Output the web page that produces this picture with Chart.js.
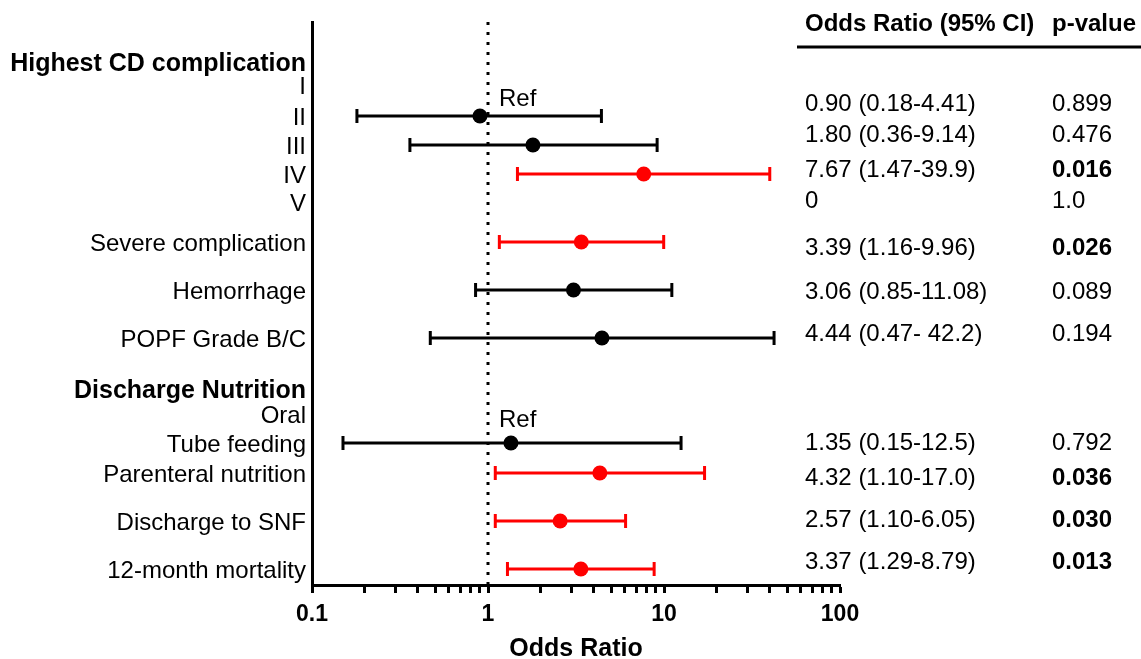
<!DOCTYPE html>
<html>
<head>
<meta charset="utf-8">
<script src="https://cdn.jsdelivr.net/npm/chart.js@4.4.1/dist/chart.umd.min.js"></script>
<style>
  html, body { margin: 0; padding: 0; background: #fff; }
  #wrap { width: 1141px; height: 659px; }
</style>
</head>
<body>
<div id="wrap"><canvas id="forest"></canvas></div>
<script>
const FONT = "'Liberation Sans', Arial, sans-serif";
const RED = '#ff0000';

// rows on the y axis (headers in bold)
const rowLabels = ['Highest CD complication', 'I', 'II', 'III', 'IV', 'V',
  'Severe complication', 'Hemorrhage', 'POPF Grade B/C',
  'Discharge Nutrition', 'Oral', 'Tube feeding', 'Parenteral nutrition',
  'Discharge to SNF', '12-month mortality'];
const rowY = [40, 63, 94, 123, 152, 180, 220, 268, 316, 367, 392, 421, 451, 499, 547];
const headerRows = [0, 9];
const refRows = ['I', 'Oral'];

// estimates
const measures = ['II', 'III', 'IV', 'Severe complication', 'Hemorrhage', 'POPF Grade B/C',
  'Tube feeding', 'Parenteral nutrition', 'Discharge to SNF', '12-month mortality'];
const oddsRatio = [0.90, 1.80, 7.67, 3.39, 3.06, 4.44, 1.35, 4.32, 2.57, 3.37];
const ciLow = [0.18, 0.36, 1.47, 1.16, 0.85, 0.47, 0.15, 1.10, 1.10, 1.29];
const ciHigh = [4.41, 9.14, 39.9, 9.96, 11.08, 42.2, 12.5, 17.0, 6.05, 8.79];
const pValues = [0.899, 0.476, 0.016, 0.026, 0.089, 0.194, 0.792, 0.036, 0.030, 0.013];

// right-hand table
const tableOR = ['0.90 (0.18-4.41)', '1.80 (0.36-9.14)', '7.67 (1.47-39.9)', '0',
  '3.39 (1.16-9.96)', '3.06 (0.85-11.08)', '4.44 (0.47- 42.2)',
  '1.35 (0.15-12.5)', '4.32 (1.10-17.0)', '2.57 (1.10-6.05)', '3.37 (1.29-8.79)'];
const tableP = ['0.899', '0.476', '0.016', '1.0', '0.026', '0.089', '0.194',
  '0.792', '0.036', '0.030', '0.013'];
const tableY = [80, 111, 146, 177, 224, 268, 310, 419, 454, 496, 538];

// x axis
const xTicks = [0.1, 0.2, 0.3, 0.4, 0.5, 0.6, 0.7, 0.8, 0.9,
  1, 2, 3, 4, 5, 6, 7, 8, 9, 10, 20, 30, 40, 50, 60, 70, 80, 90, 100];
const xMajor = [0.1, 1, 10, 100];

const rowOf = name => rowY[rowLabels.indexOf(name)];

const forestPlugin = {
  id: 'forest',
  beforeDatasetsDraw(chart) {
    const { ctx, chartArea, scales: { x, y } } = chart;
    ctx.save();
    // dotted line at OR = 1
    const x1 = Math.round(x.getPixelForValue(1));
    ctx.strokeStyle = '#000';
    ctx.lineWidth = 3;
    ctx.setLineDash([3, 7]);
    ctx.beginPath();
    ctx.moveTo(x1, chartArea.top);
    ctx.lineTo(x1, chartArea.bottom);
    ctx.stroke();
    ctx.setLineDash([]);

    // confidence intervals
    measures.forEach((m, i) => {
      const py = y.getPixelForValue(rowOf(m));
      const lo = x.getPixelForValue(ciLow[i]);
      const hi = x.getPixelForValue(ciHigh[i]);
      ctx.strokeStyle = pValues[i] < 0.05 ? RED : '#000';
      ctx.lineWidth = 3;
      ctx.beginPath();
      ctx.moveTo(lo, py); ctx.lineTo(hi, py);
      ctx.moveTo(lo, py - 7); ctx.lineTo(lo, py + 7);
      ctx.moveTo(hi, py - 7); ctx.lineTo(hi, py + 7);
      ctx.stroke();
    });

    // Ref labels
    ctx.fillStyle = '#000';
    ctx.font = '24px ' + FONT;
    ctx.textBaseline = 'middle';
    ctx.textAlign = 'left';
    const refOffset = [14, 6];
    refRows.forEach((r, i) => {
      ctx.fillText('Ref', x1 + 11, y.getPixelForValue(rowOf(r) + refOffset[i]));
    });
    ctx.restore();
  },
  afterDraw(chart) {
    const { ctx, scales: { y } } = chart;
    ctx.save();
    ctx.fillStyle = '#000';
    ctx.textBaseline = 'middle';
    ctx.textAlign = 'left';
    ctx.font = 'bold 24px ' + FONT;
    ctx.fillText('Odds Ratio (95% CI)', 805, 24);
    ctx.fillText('p-value', 1052, 24);
    ctx.strokeStyle = '#000';
    ctx.lineWidth = 3;
    ctx.beginPath();
    ctx.moveTo(797, 47);
    ctx.lineTo(1141, 47);
    ctx.stroke();

    tableOR.forEach((t, i) => {
      const py = y.getPixelForValue(tableY[i]) + 2;
      ctx.font = '24px ' + FONT;
      ctx.fillText(t, 805, py);
      ctx.font = (parseFloat(tableP[i]) < 0.05 ? 'bold ' : '') + '24px ' + FONT;
      ctx.fillText(tableP[i], 1052, py);
    });
    ctx.restore();
  }
};

new Chart(document.getElementById('forest'), {
  type: 'scatter',
  data: {
    datasets: [{
      data: measures.map((m, i) => ({ x: oddsRatio[i], y: rowOf(m) })),
      backgroundColor: pValues.map(p => p < 0.05 ? RED : '#000'),
      borderWidth: 0,
      pointRadius: 7.5,
      pointHoverRadius: 7.5
    }]
  },
  options: {
    responsive: true,
    maintainAspectRatio: false,
    animation: false,
    layout: { padding: { top: 22, right: 301, left: 0, bottom: 0 } },
    plugins: {
      legend: { display: false },
      tooltip: { enabled: false }
    },
    scales: {
      x: {
        type: 'logarithmic',
        min: 0.1,
        max: 100,
        afterBuildTicks: s => { s.ticks = xTicks.map(v => ({ value: v, major: xMajor.includes(v) })); },
        afterFit: s => { s.height = 74; },
        ticks: {
          autoSkip: false,
          maxRotation: 0,
          color: '#000',
          padding: 8,
          font: { family: FONT, size: 23, weight: 'bold' },
          callback: v => xMajor.includes(v) ? String(v) : ''
        },
        grid: {
          drawOnChartArea: false,
          drawTicks: true,
          tickLength: 8,
          tickWidth: 3,
          tickColor: '#000'
        },
        border: { display: true, color: '#000', width: 3 },
        title: {
          display: true,
          text: 'Odds Ratio',
          color: '#000',
          font: { family: FONT, size: 25, weight: 'bold', lineHeight: 1 },
          padding: { top: 4, bottom: -3 }
        }
      },
      y: {
        type: 'linear',
        min: 0,
        max: 563,
        reverse: true,
        afterBuildTicks: s => { s.ticks = rowY.map(v => ({ value: v })); },
        afterFit: s => { s.width = 312; },
        ticks: {
          autoSkip: false,
          color: '#000',
          padding: 6,
          labelOffset: 2,
          font: c => ({ family: FONT, size: headerRows.includes(c.index) ? 25 : 24, weight: headerRows.includes(c.index) ? 'bold' : 'normal' }),
          callback: (v, i) => rowLabels[i]
        },
        grid: { display: false, drawTicks: false },
        border: { display: true, color: '#000', width: 3 }
      }
    }
  },
  plugins: [forestPlugin]
});
</script>
</body>
</html>
